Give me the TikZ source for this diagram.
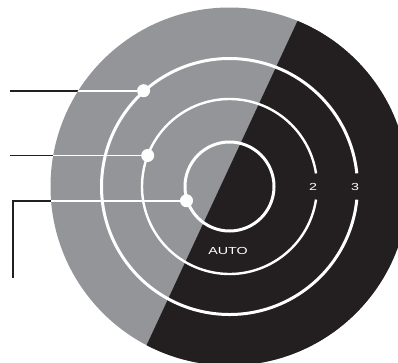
\documentclass[tikz,border=0pt]{standalone}
\usepackage{fontspec}
\newfontfamily\dialfont{Liberation Sans}[FakeStretch=1.4]
\definecolor{dialgray}{HTML}{939598}
\definecolor{dialblack}{HTML}{231F20}
\begin{document}
\begin{tikzpicture}[
  x=1pt, y=-1pt,
  ring/.style={draw=white},
  leader/.style={line width=1.8pt},
  knob/.style={circle, fill=white, inner sep=0pt, minimum size=13pt},
  dial/.style={text=white, inner sep=0pt, font=\dialfont\fontsize{10.2}{12}\selectfont}
]
\useasboundingbox (0,0) rectangle (398,362);

\coordinate (ctr) at (229.5,186.5);

\node[knob] (dot3) at (143.6,90.7) {};
\node[knob] (dot2) at (147.7,155.5) {};
\node[knob] (dot1) at (186.5,200.7) {};
\coordinate (lead3) at (10,90.7);
\coordinate (lead2) at (10,155.5);
\coordinate (lead1) at (13,200.7);
\coordinate (foot) at (13,278);

% black leaders, covered inside the dial
\draw[leader, dialblack] (lead3) -- (dot3.center);
\draw[leader, dialblack] (lead2) -- (dot2.center);
\draw[leader, dialblack] (foot) -- (lead1) -- (dot1.center);

\begin{scope}
  \clip (ctr) circle[radius=179];
  \fill[dialgray] (ctr) circle[radius=179];
  \fill[dialblack] (341.7,-74) -- (600,-74) -- (600,603) -- (26.7,602.7) -- cycle;
  \draw[leader, white] (lead3) -- (dot3);
  \draw[leader, white] (lead2) -- (dot2);
  \draw[leader, white] (lead1) -- (dot1);
\end{scope}

\draw[ring, line width=3pt] ([shift={(5.9:128)}]ctr) arc[start angle=5.9, end angle=354.1, radius=128];
\draw[ring, line width=2.4pt] ([shift={(8.6:87.5)}]ctr) arc[start angle=8.6, end angle=351.4, radius=87.5];
\draw[ring, line width=3pt] (ctr) circle[radius=44.5];

\node[knob] at (dot3) {};
\node[knob] at (dot2) {};
\node[knob] at (dot1) {};

\node[dial] (two) at (313,187) {2};
\node[dial] (three) at (355,187) {3};
\node[dial] (auto) at (228,251) {AUTO};
\end{tikzpicture}
\end{document}
